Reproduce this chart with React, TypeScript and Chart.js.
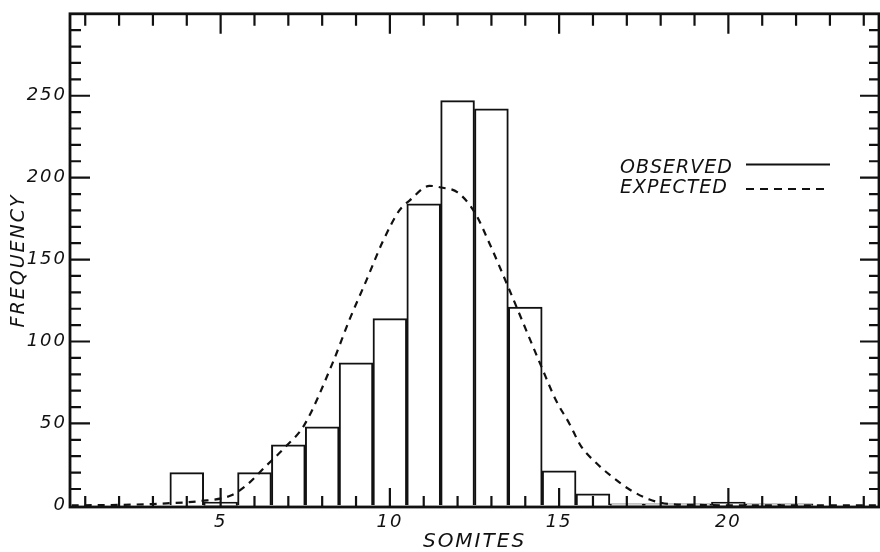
import { useEffect, useRef } from 'react';
import { Chart, registerables } from 'chart.js';

Chart.register(...registerables);

// ---- data ----
const somites = [1, 2, 3, 4, 5, 6, 7, 8, 9, 10, 11, 12, 13, 14, 15, 16, 17, 18, 19, 20, 21, 22, 23, 24];
const observed = [0, 0, 0, 20, 2, 20, 37, 48, 87, 114, 184, 247, 242, 121, 21, 7, 1, 1, 1, 2, 1, 1, 0, 0];

const expectedX = [0.6, 2, 3, 3.4, 4.4, 5.3, 5.75, 6.34, 6.93, 7.47, 8.31, 8.8, 9.3, 9.79, 10.28, 10.58, 11.17, 11.51, 12.0, 12.5, 12.94, 13.48, 14.47, 14.91, 15.3, 15.65, 16.09, 16.53, 17.08, 17.67, 18.26, 19, 20, 24.45];
const expectedY = [0, 0.3, 0.8, 1.2, 2.6, 6, 12, 24, 36, 49, 87, 113, 137, 161, 180, 186, 195, 194, 191, 179, 160, 134, 85, 64, 50, 36, 26, 18, 9.7, 3.6, 0.8, 0.3, 0, 0];

const xTickValues = [1, 2, 3, 4, 5, 6, 7, 8, 9, 10, 11, 12, 13, 14, 15, 16, 17, 18, 19, 20, 21, 22, 23, 24];
const xLabelValues = [5, 10, 15, 20];
const yTickValues = [0, 10, 20, 30, 40, 50, 60, 70, 80, 90, 100, 110, 120, 130, 140, 150, 160, 170, 180, 190, 200, 210, 220, 230, 240, 250, 260, 270, 280, 290, 300];
const yLabelValues = [0, 50, 100, 150, 200, 250];

const xTitle = 'SOMITES';
const yTitle = 'FREQUENCY';
const seriesLabels = ['OBSERVED', 'EXPECTED'];

const FONT = "'DejaVu Sans', 'Liberation Sans', sans-serif";
const INK = '#111';

const spacingPlugin = {
  id: 'spacing',
  beforeDraw(chart: any) {
    chart.ctx.letterSpacing = '2px';
  },
};

const framePlugin = {
  id: 'frameTicks',
  afterDatasetsDraw(chart: any) {
    const { ctx, chartArea: a, scales } = chart;
    const x = scales.x;
    const y = scales.y;
    ctx.save();
    ctx.strokeStyle = INK;
    ctx.setLineDash([]);
    ctx.lineWidth = 2.8;
    ctx.strokeRect(a.left, a.top, a.right - a.left, a.bottom - a.top);
    ctx.lineWidth = 2.2;
    for (const t of x.ticks) {
      const v = t.value;
      if (v <= x.min || v >= x.max) continue;
      const px = x.getPixelForValue(v);
      const major = v % 5 === 0;
      ctx.beginPath();
      ctx.moveTo(px, a.bottom);
      ctx.lineTo(px, a.bottom - (major ? 19 : 11));
      ctx.moveTo(px, a.top);
      ctx.lineTo(px, a.top + (major ? 20 : 12));
      ctx.stroke();
    }
    for (const t of y.ticks) {
      const v = t.value;
      if (v <= 0 || v >= y.max) continue;
      const py = y.getPixelForValue(v);
      const major = v % 50 === 0;
      ctx.beginPath();
      ctx.moveTo(a.left, py);
      ctx.lineTo(a.left + (major ? 20 : 11), py);
      ctx.moveTo(a.right, py);
      ctx.lineTo(a.right - (major ? 19 : 10), py);
      ctx.stroke();
    }
    ctx.restore();
  },
};

const legendPlugin = {
  id: 'inlineLegend',
  afterDraw(chart: any) {
    const { ctx } = chart;
    const rows = [
      { base: 173, lineY: 164.5 },
      { base: 193, lineY: 189 },
    ];
    ctx.save();
    ctx.font = `italic 19px ${FONT}`;
    ctx.letterSpacing = '1px';
    ctx.fillStyle = INK;
    ctx.strokeStyle = INK;
    ctx.textAlign = 'left';
    ctx.textBaseline = 'alphabetic';
    chart.data.datasets.forEach((ds: any, i: number) => {
      const r = rows[i];
      ctx.fillText(ds.label, 620, r.base);
      ctx.lineWidth = 2;
      ctx.setLineDash(ds.type === 'line' ? [8, 6] : []);
      ctx.beginPath();
      ctx.moveTo(746, r.lineY);
      ctx.lineTo(830, r.lineY);
      ctx.stroke();
    });
    ctx.restore();
  },
};

export default function App() {
  const ref = useRef<HTMLCanvasElement>(null);

  useEffect(() => {
    if (!ref.current) return;
    const tickFont = { family: FONT, size: 18, style: 'italic' as const };
    const chart = new Chart(ref.current, {
      type: 'bar',
      data: {
        datasets: [
          {
            type: 'bar',
            label: seriesLabels[0],
            data: somites.map((s, i) => ({ x: s, y: observed[i] })) as any,
            backgroundColor: '#ffffff',
            borderColor: INK,
            borderWidth: 2,
            barPercentage: 1,
            categoryPercentage: 1,
            order: 2,
          } as any,
          {
            type: 'line',
            label: seriesLabels[1],
            data: expectedX.map((xv, i) => ({ x: xv, y: expectedY[i] })) as any,
            borderColor: INK,
            borderWidth: 2.2,
            borderDash: [7, 6],
            pointRadius: 0,
            cubicInterpolationMode: 'monotone',
            fill: false,
            order: 1,
          } as any,
        ],
      },
      options: {
        responsive: false,
        animation: false,
        devicePixelRatio: 1,
        layout: { padding: { top: 12, right: 1, left: 0, bottom: 0 } },
        plugins: { legend: { display: false }, tooltip: { enabled: false } },
        scales: {
          x: {
            type: 'linear',
            offset: false,
            min: 0.55,
            max: 24.45,
            afterBuildTicks: (s: any) => {
              s.ticks = xTickValues.map((v) => ({ value: v }));
            },
            afterFit: (s: any) => {
              s.height = 45;
            },
            grid: { display: false, drawTicks: false },
            border: { display: false },
            ticks: {
              autoSkip: false,
              maxRotation: 0,
              minRotation: 0,
              padding: 5,
              color: INK,
              font: tickFont,
              callback: (v: any) => (xLabelValues.includes(Number(v)) ? String(v) : ''),
            },
            title: {
              display: true,
              text: xTitle,
              color: INK,
              font: { family: FONT, size: 20, style: 'italic', lineHeight: 1 },
              padding: { top: 0, bottom: 0 },
            },
          } as any,
          y: {
            type: 'linear',
            min: -1,
            max: 300,
            afterBuildTicks: (s: any) => {
              s.ticks = yTickValues.map((v) => ({ value: v }));
            },
            afterFit: (s: any) => {
              s.width = 70;
            },
            grid: { display: false, drawTicks: false },
            border: { display: false },
            ticks: {
              autoSkip: false,
              padding: 3,
              color: INK,
              font: tickFont,
              callback: (v: any) => (yLabelValues.includes(Number(v)) ? String(v) : ''),
            },
            title: {
              display: true,
              text: yTitle,
              color: INK,
              font: { family: FONT, size: 19, style: 'italic', lineHeight: 1 },
              padding: { top: 10, bottom: 0 },
            },
          } as any,
        },
      },
      plugins: [spacingPlugin, framePlugin, legendPlugin],
    });
    return () => chart.destroy();
  }, []);

  return (
    <div style={{ position: 'absolute', left: 0, top: 0, width: 880, height: 552, background: '#fff' }}>
      <canvas ref={ref} width={880} height={552} style={{ display: 'block' }} />
    </div>
  );
}
